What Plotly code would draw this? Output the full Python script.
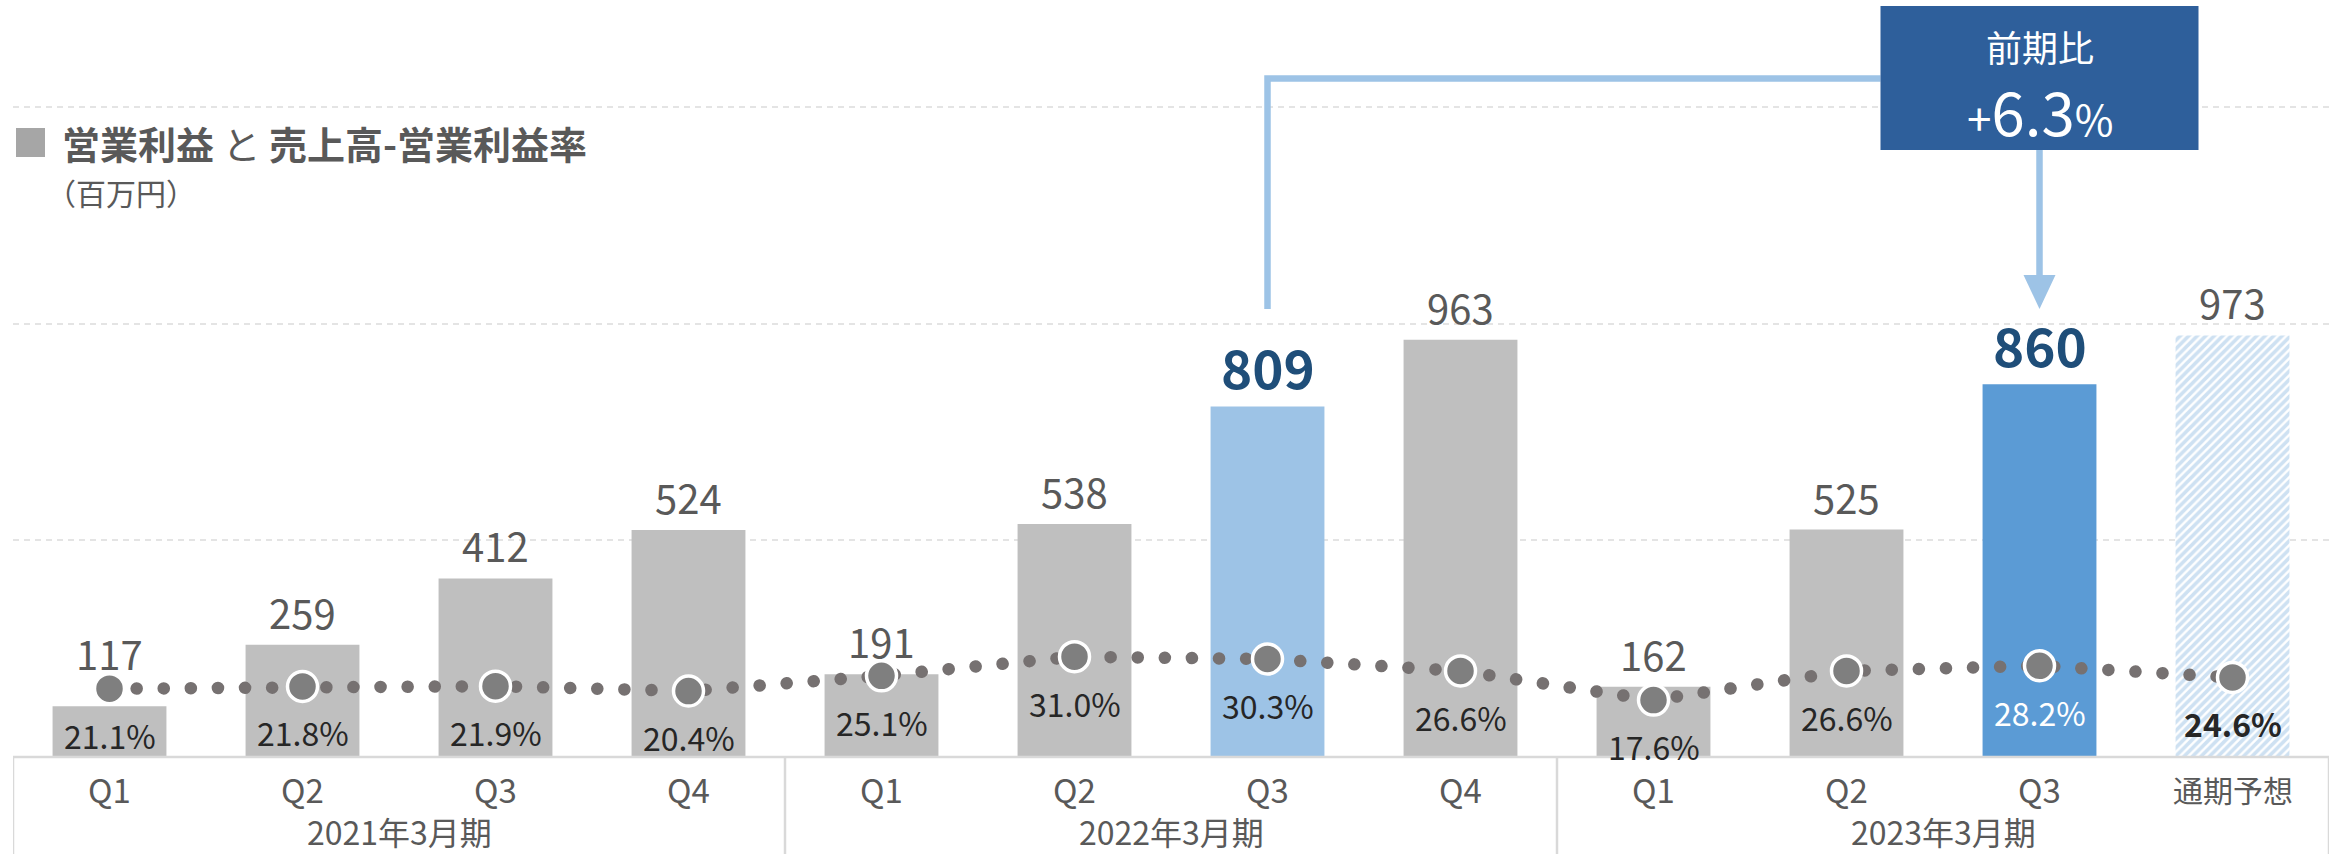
import plotly.graph_objects as go

# ---------------- data ----------------
quarters = ["Q1", "Q2", "Q3", "Q4", "Q1", "Q2", "Q3", "Q4", "Q1", "Q2", "Q3", "通期予想"]
fiscal_years = ["2021年3月期", "2022年3月期", "2023年3月期"]
operating_profit = [117, 259, 412, 524, 191, 538, 809, 963, 162, 525, 860, 973]
operating_margin = [21.1, 21.8, 21.9, 20.4, 25.1, 31.0, 30.3, 26.6, 17.6, 26.6, 28.2, 24.6]
highlight_idx = [6, 10]          # Q3 of FY2022 and FY2023
forecast_idx = 11
yoy_text = "+6.3"
title_text = "<b>営業利益</b> と <b>売上高-営業利益率</b>"
unit_text = "（百万円）"

# ---------------- geometry ----------------
FIG_W, FIG_H = 2341, 854
ML, MR, MT, MB = 13, 12, 0, 97
PW = FIG_W - ML - MR
PH = FIG_H - MT - MB
Y1_MAX = 1747
Y2_MAX = 234
FONT = "Noto Sans CJK JP"
GRAY_TXT = "#595959"
DARK_TXT = "#262626"
HL_TXT = "#1f4e79"
LIGHT_BLUE = "#9dc3e6"
MID_BLUE = "#5b9bd5"
BOX_BLUE = "#2e5f9b"
LINE_GRAY = "#d9d9d9"

n = len(quarters)
xs = list(range(n))


def pyp(p):  # pixel y -> paper y
    return (MT + PH - p) / PH


def pxp(p):  # pixel x -> paper x
    return (p - ML) / PW


px_per_unit = PH / Y1_MAX
px_per_pct = PH / Y2_MAX
px_per_cat = PW / n

actual_x = [i for i in xs if i != forecast_idx]
actual_y = [operating_profit[i] for i in actual_x]
bar_colors = []
for i in actual_x:
    if i == highlight_idx[0]:
        bar_colors.append(LIGHT_BLUE)
    elif i == highlight_idx[1]:
        bar_colors.append(MID_BLUE)
    else:
        bar_colors.append("#bfbfbf")

fig = go.Figure()
fig.add_trace(go.Bar(
    x=actual_x, y=actual_y, width=0.59,
    marker=dict(color=bar_colors, line=dict(width=0)),
    hoverinfo="skip", showlegend=False,
))
fig.add_trace(go.Bar(
    x=[forecast_idx], y=[operating_profit[forecast_idx]], width=0.59,
    marker=dict(color="white", line=dict(width=0),
                pattern=dict(shape="/", fgcolor=LIGHT_BLUE, bgcolor="white",
                             size=6, solidity=0.6)),
    hoverinfo="skip", showlegend=False,
))
fig.add_trace(go.Scatter(
    x=xs, y=operating_margin, yaxis="y2", mode="lines+markers",
    line=dict(color="#767171", width=12.5, dash="0.1px,27px"),
    marker=dict(size=30, color="#7f7f7f", line=dict(color="white", width=3.5)),
    hoverinfo="skip", showlegend=False,
))

annotations = []
shapes = []

# value labels above bars
for i, (v, m) in enumerate(zip(operating_profit, operating_margin)):
    hl = i in highlight_idx
    if hl:
        annotations.append(dict(x=i, y=v, xref="x", yref="y", text=f"<b>{v}</b>",
                                showarrow=False, yshift=40, yanchor="middle",
                                font=dict(family=FONT, size=53, color=HL_TXT)))
    elif m * px_per_pct > v * px_per_unit:
        annotations.append(dict(x=i, y=m, xref="x", yref="y2", text=str(v),
                                showarrow=False, yshift=36, yanchor="middle",
                                font=dict(family=FONT, size=40, color=GRAY_TXT)))
    else:
        annotations.append(dict(x=i, y=v, xref="x", yref="y", text=str(v),
                                showarrow=False, yshift=33, yanchor="middle",
                                font=dict(family=FONT, size=40, color=GRAY_TXT)))

# margin labels below markers
for i, m in enumerate(operating_margin):
    col = "white" if i == highlight_idx[1] else DARK_TXT
    txt = f"<b>{m:.1f}%</b>" if i == forecast_idx else f"{m:.1f}%"
    annotations.append(dict(x=i, y=m, xref="x", yref="y2", text=txt,
                            showarrow=False, yshift=-46, yanchor="middle",
                            font=dict(family=FONT, size=32, color=col)))

# category labels
for i, q in enumerate(quarters):
    annotations.append(dict(x=i, y=pyp(789), xref="x", yref="paper", text=q,
                            showarrow=False, yanchor="middle",
                            font=dict(family=FONT, size=30 if i == forecast_idx else 33,
                                      color=GRAY_TXT)))
for g, fy in enumerate(fiscal_years):
    annotations.append(dict(x=g * 4 + 1.5, y=pyp(831), xref="x", yref="paper", text=fy,
                            showarrow=False, yanchor="middle",
                            font=dict(family=FONT, size=32, color=GRAY_TXT)))

# category box
yb = pyp(FIG_H)
shapes.append(dict(type="line", xref="x", yref="paper", x0=-0.5, x1=n - 0.5, y0=0, y1=0,
                   line=dict(color=LINE_GRAY, width=2.5), layer="above"))
for xb in [-0.5, 3.5, 7.5, n - 0.5]:
    shapes.append(dict(type="line", xref="x", yref="paper", x0=xb, x1=xb, y0=0, y1=yb,
                       line=dict(color=LINE_GRAY, width=2.5), layer="above"))

# title
shapes.append(dict(type="rect", xref="paper", yref="paper", x0=pxp(16), x1=pxp(45),
                   y0=pyp(157), y1=pyp(128), fillcolor="#a6a6a6", line=dict(width=0)))
annotations.append(dict(x=pxp(60), y=pyp(143), xref="paper", yref="paper", text=title_text,
                        showarrow=False, xanchor="left", yanchor="middle",
                        font=dict(family=FONT, size=38, color=GRAY_TXT)))
annotations.append(dict(x=pxp(44), y=pyp(192), xref="paper", yref="paper", text=unit_text,
                        showarrow=False, xanchor="left", yanchor="middle",
                        font=dict(family=FONT, size=30, color=GRAY_TXT)))

# comparison callout
h0, h1 = highlight_idx
half_box = 159 / px_per_cat
bx0, bx1 = h1 - half_box, h1 + half_box
shapes.append(dict(type="path", xref="x", yref="paper",
                   path=f"M {h0},{pyp(309)} L {h0},{pyp(78.5)} L {bx0},{pyp(78.5)}",
                   line=dict(color=LIGHT_BLUE, width=6.5), layer="above"))
shapes.append(dict(type="line", xref="x", yref="paper", x0=h1, x1=h1,
                   y0=pyp(150), y1=pyp(277),
                   line=dict(color=LIGHT_BLUE, width=6.5), layer="above"))
hw = 16 / px_per_cat
shapes.append(dict(type="path", xref="x", yref="paper",
                   path=f"M {h1 - hw},{pyp(275)} L {h1 + hw},{pyp(275)} L {h1},{pyp(309)} Z",
                   fillcolor=LIGHT_BLUE, line=dict(width=0), layer="above"))
shapes.append(dict(type="rect", xref="x", yref="paper", x0=bx0, x1=bx1,
                   y0=pyp(150), y1=pyp(6), fillcolor=BOX_BLUE, line=dict(width=0),
                   layer="above"))
annotations.append(dict(x=h1, y=pyp(46), xref="x", yref="paper", text="前期比",
                        showarrow=False, yanchor="middle",
                        font=dict(family=FONT, size=36, color="white")))
annotations.append(dict(x=h1, y=pyp(110), xref="x", yref="paper",
                        text=(f"<span style='font-size:44px'>+</span>{yoy_text[1:]}"
                              f"<span style='font-size:42px'>%</span>"),
                        showarrow=False, yanchor="middle",
                        font=dict(family=FONT, size=60, color="white")))

fig.update_layout(
    width=FIG_W, height=FIG_H,
    margin=dict(l=ML, r=MR, t=MT, b=MB, autoexpand=False),
    paper_bgcolor="white", plot_bgcolor="white",
    barmode="overlay",
    xaxis=dict(range=[-0.5, n - 0.5], showticklabels=False, showgrid=False,
               zeroline=False, showline=False, ticks=""),
    yaxis=dict(range=[0, Y1_MAX], dtick=500, showticklabels=False, showgrid=True,
               gridcolor="#e4e4e4", gridwidth=1.5, griddash="6px,5px",
               zeroline=False, showline=False, ticks=""),
    yaxis2=dict(range=[0, Y2_MAX], overlaying="y", side="right", showticklabels=False,
                showgrid=False, zeroline=False, showline=False, ticks=""),
    annotations=annotations,
    shapes=shapes,
    font=dict(family=FONT),
)

post_js = """
document.body.style.margin = '0';
document.body.style.padding = '0';
var gd = document.getElementById('{plot_id}');
function roundDots(){
  gd.querySelectorAll('.scatterlayer .js-line').forEach(function(p){
    p.style.strokeLinecap = 'round';
  });
}
roundDots();
gd.on('plotly_afterplot', roundDots);
"""
fig.write_html("out.html", post_script=post_js, config={"displayModeBar": False})
